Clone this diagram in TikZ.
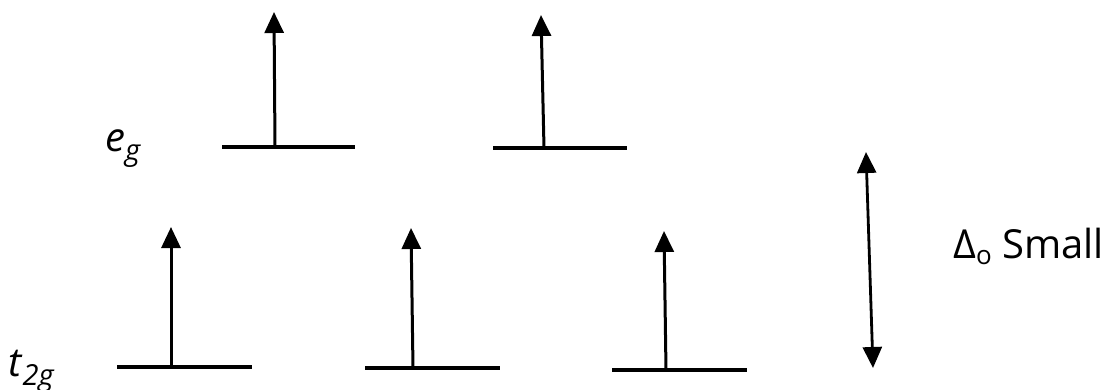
\documentclass[tikz,border=0pt]{standalone}
\usepackage{fontspec}
\setmainfont{Open Sans}
\usetikzlibrary{arrows.meta}
\newcommand{\mysub}[1]{\raisebox{-0.24em}{\fontsize{29}{34}\selectfont #1}}
\begin{document}
\begin{tikzpicture}[x=1pt,y=-1pt,
  level/.style={line width=3.2pt},
  spin/.style={line width=3pt,-{Triangle[length=21pt,width=19pt]}},
  gap/.style={line width=2.8pt,{Triangle[length=21pt,width=19pt]}-{Triangle[length=21pt,width=19pt]}},
  lbl/.style={inner sep=0pt,font=\fontsize{40}{46}\selectfont}]
\useasboundingbox (0,0) rectangle (1114,389);
% e_g levels
\coordinate (e1a) at (222,147); \coordinate (e1b) at (355,147);
\coordinate (e2a) at (493,148); \coordinate (e2b) at (627,148);
\draw[level] (e1a) -- (e1b);
\draw[level] (e2a) -- (e2b);
\coordinate (e1m) at (275,147); \coordinate (e1t) at (274,12);
\coordinate (e2m) at (544,148); \coordinate (e2t) at (541,15);
\draw[spin] (e1m) -- (e1t);
\draw[spin] (e2m) -- (e2t);
% t_2g levels
\coordinate (t1a) at (117,367); \coordinate (t1b) at (252,367);
\coordinate (t2a) at (365,368); \coordinate (t2b) at (500,368);
\coordinate (t3a) at (612,370); \coordinate (t3b) at (747,370);
\draw[level] (t1a) -- (t1b);
\draw[level] (t2a) -- (t2b);
\draw[level] (t3a) -- (t3b);
\coordinate (t1m) at (171,367); \coordinate (t1t) at (171,227);
\coordinate (t2m) at (413,368); \coordinate (t2t) at (411,228);
\coordinate (t3m) at (666,370); \coordinate (t3t) at (664,231);
\draw[spin] (t1m) -- (t1t);
\draw[spin] (t2m) -- (t2t);
\draw[spin] (t3m) -- (t3t);
% gap arrow
\coordinate (gt) at (866,152); \coordinate (gb) at (873,368);
\draw[gap] (gt) -- (gb);
% labels
\node[lbl,anchor=base west] (eg) at (105,151) {\textit{e}\mysub{\textit{g}}};
\node[lbl,anchor=base west] (t2g) at (8,376) {\textit{t}\mysub{\textit{2g}}};
\node[lbl,anchor=base west] (delta) at (953,258) {Δ\raisebox{-0.15em}{\fontsize{26}{30}\selectfont o} Small};
\end{tikzpicture}
\end{document}
